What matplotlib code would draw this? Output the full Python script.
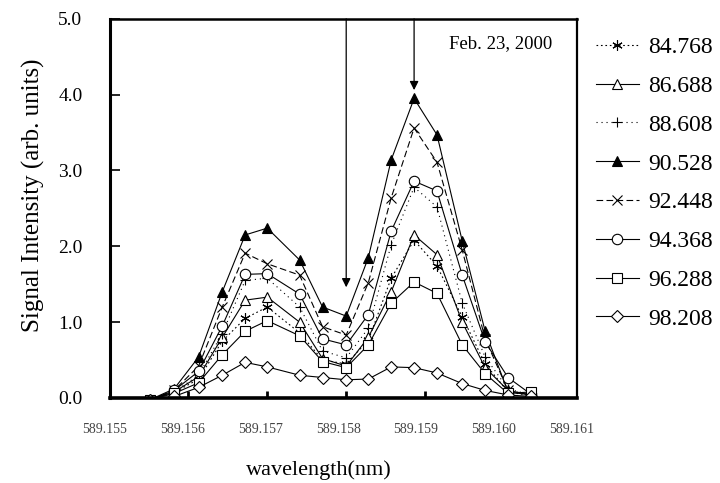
import matplotlib
matplotlib.use("Agg")
import matplotlib.pyplot as plt
import matplotlib.transforms as mtransforms

plt.rcParams['font.family'] = ['Liberation Serif', 'DejaVu Serif']

# wavelength of every scan point (nm)
wavelength = [589.15552, 589.15582, 589.15613, 589.15643, 589.15672, 589.15700,
              589.15741, 589.15770, 589.15800, 589.15828, 589.15857, 589.15886,
              589.15915, 589.15947, 589.15976, 589.16005, 589.16034]

s84768 = [-0.02, 0.07, 0.25, 0.75, 1.05, 1.20, 0.86, 0.50, 0.45, 0.76, 1.58, 2.08, 1.74, 1.07, 0.45, 0.08, 0.03]
s86688 = [-0.02, 0.08, 0.28, 0.80, 1.29, 1.33, 1.00, 0.52, 0.42, 0.80, 1.40, 2.15, 1.89, 1.00, 0.40, 0.10, 0.04]
s88608 = [-0.02, 0.08, 0.30, 0.85, 1.55, 1.58, 1.20, 0.62, 0.53, 0.92, 2.02, 2.78, 2.52, 1.25, 0.54, 0.12, 0.04]
s90528 = [-0.02, 0.12, 0.54, 1.40, 2.15, 2.24, 1.82, 1.20, 1.08, 1.85, 3.14, 3.95, 3.47, 2.07, 0.88, 0.08, 0.04]
s92448 = [-0.02, 0.10, 0.42, 1.20, 1.91, 1.77, 1.62, 0.94, 0.83, 1.52, 2.64, 3.56, 3.11, 1.95, 0.78, 0.10, 0.04]
s94368 = [-0.03, 0.10, 0.35, 0.95, 1.63, 1.64, 1.37, 0.78, 0.70, 1.10, 2.20, 2.86, 2.73, 1.62, 0.74, 0.27, 0.05]
s96288 = [-0.02, 0.06, 0.20, 0.57, 0.88, 1.02, 0.82, 0.48, 0.40, 0.70, 1.25, 1.53, 1.38, 0.70, 0.32, 0.06, 0.08]
s98208 = [-0.03, 0.02, 0.14, 0.30, 0.47, 0.41, 0.30, 0.27, 0.24, 0.25, 0.41, 0.40, 0.33, 0.19, 0.10, 0.04, 0.02]

labels = ["84.768", "86.688", "88.608", "90.528", "92.448", "94.368", "96.288", "98.208"]
series = [s84768, s86688, s88608, s90528, s92448, s94368, s96288, s98208]

# (marker, linestyle, filled)
styles = [((6, 2, 0), (0, (1.5, 2.5)), False),
          ('^', '-', False),
          ('+', (0, (1, 3.5)), False),
          ('^', '-', True),
          ('x', (0, (6, 3)), False),
          ('o', '-', False),
          ('s', '-', False),
          ('D', '-', False)]

xtick_vals = [589.155, 589.156, 589.157, 589.158, 589.159, 589.160, 589.161]
ytick_vals = [0, 1, 2, 3, 4, 5]

# arrow positions / tips
arrow_x = [589.158, 589.15886]
arrow_tip = [1.46, 4.06]

fig = plt.figure(figsize=(7.2, 4.83), dpi=100)
ax = fig.add_axes([0.153, 0.176, 0.648, 0.785])

for lab, ys, (mk, ls, filled) in zip(labels, series, styles):
    ms = 6 if mk == 'D' else 7.5
    ax.plot(wavelength, ys, color='black', linestyle=ls, linewidth=0.8,
            marker=mk, markersize=ms, markeredgewidth=0.8,
            markerfacecolor='black' if filled else 'white',
            markeredgecolor='black', label=lab)

for xa, tip in zip(arrow_x, arrow_tip):
    ax.annotate('', xy=(xa, tip), xytext=(xa, 5.0),
                arrowprops=dict(arrowstyle='-|>', color='black', lw=0.9,
                                mutation_scale=13, shrinkA=0, shrinkB=0))

ax.set_xlim(589.15501, 589.16092)
ax.set_ylim(0, 5)

ax.set_yticks(ytick_vals)
ax.set_yticklabels(["%.1f" % v for v in ytick_vals], fontsize=14)
ax.set_xticks(xtick_vals[1:-1])
ax.set_xticklabels([])
ax.tick_params(axis='y', direction='in', length=7, width=1.2, pad=20)
ax.tick_params(axis='x', direction='in', length=5, width=2)

# tick labels in the original sit a little left of their ticks
trans = mtransforms.blended_transform_factory(ax.transData, ax.transAxes)
for v in xtick_vals:
    lx = 589.155 + (v - 589.155) * 0.987 - 0.0000633
    ax.text(lx, -0.084, "%.3f" % v, transform=trans, ha='center', va='center',
            fontsize=10, color='#444444', clip_on=False)

for side, lw in [('left', 2.2), ('bottom', 2.6), ('top', 1.8), ('right', 1.6)]:
    ax.spines[side].set_linewidth(lw)

ax.set_ylabel("Signal Intensity (arb. units)", fontsize=18)
ax.yaxis.set_label_coords(-0.14, 0.535)
ax.set_xlabel("wavelength(nm)", fontsize=16)
ax.xaxis.set_label_coords(0.448, -0.19)
ax.xaxis.label.set_va('center')

ax.text(0.948, 0.935, "Feb. 23, 2000", transform=ax.transAxes,
        ha='right', va='center', fontsize=13.5)

ax.legend(loc='upper left', bbox_to_anchor=(0.828, 0.924),
          bbox_transform=fig.transFigure, frameon=False, fontsize=17,
          handlelength=1.8, handletextpad=0.4, labelspacing=0.73,
          borderpad=0, borderaxespad=0)

fig.savefig("out.png", dpi=100)
